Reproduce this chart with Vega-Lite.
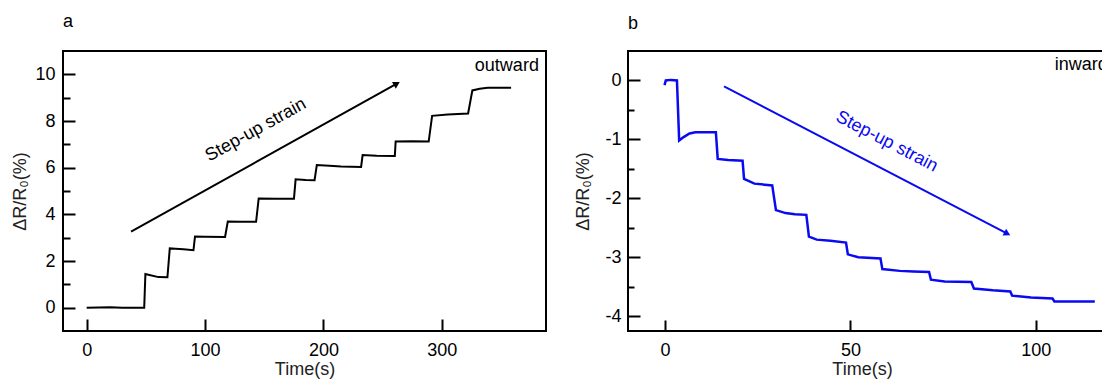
{
  "$schema": "https://vega.github.io/schema/vega-lite/v6.json",
  "padding": {"left": 10, "top": 12, "right": 0, "bottom": 0},
  "background": "white",
  "spacing": 26,
  "datasets": {
    "traceA": [
      {"t": 0, "v": 0}, {"t": 10, "v": 0.01}, {"t": 20, "v": 0.02}, {"t": 30, "v": 0.0}, {"t": 40, "v": 0.0}, {"t": 48.6, "v": 0.0},
      {"t": 49.6, "v": 1.44}, {"t": 53, "v": 1.4}, {"t": 60.6, "v": 1.31}, {"t": 68.2, "v": 1.3},
      {"t": 70.2, "v": 2.54}, {"t": 75, "v": 2.53}, {"t": 81.8, "v": 2.5}, {"t": 90.2, "v": 2.46},
      {"t": 91.5, "v": 3.05}, {"t": 100, "v": 3.04}, {"t": 116.9, "v": 3.03},
      {"t": 119.2, "v": 3.69}, {"t": 130, "v": 3.68}, {"t": 143.1, "v": 3.68},
      {"t": 145.3, "v": 4.68}, {"t": 160, "v": 4.67}, {"t": 175.1, "v": 4.67},
      {"t": 176.5, "v": 5.5}, {"t": 185, "v": 5.47}, {"t": 192.5, "v": 5.46},
      {"t": 194.4, "v": 6.11}, {"t": 205, "v": 6.08}, {"t": 215, "v": 6.05}, {"t": 231.8, "v": 6.03},
      {"t": 233.1, "v": 6.54}, {"t": 245, "v": 6.51}, {"t": 260.3, "v": 6.5},
      {"t": 261.0, "v": 7.12}, {"t": 275, "v": 7.13}, {"t": 288.9, "v": 7.12},
      {"t": 291.8, "v": 8.22}, {"t": 305, "v": 8.28}, {"t": 322.2, "v": 8.32},
      {"t": 325.8, "v": 9.31}, {"t": 332, "v": 9.38}, {"t": 338.8, "v": 9.42}, {"t": 358.5, "v": 9.43}
    ],
    "traceB": [
      {"t": -0.15, "v": -0.08}, {"t": 0.2, "v": 0.0}, {"t": 1.5, "v": 0.01}, {"t": 3.2, "v": 0.0},
      {"t": 3.8, "v": -1.02}, {"t": 5.0, "v": -0.96}, {"t": 6.6, "v": -0.9}, {"t": 8.2, "v": -0.88}, {"t": 11, "v": -0.88}, {"t": 13.7, "v": -0.88},
      {"t": 14.2, "v": -1.33}, {"t": 17, "v": -1.35}, {"t": 20.9, "v": -1.36},
      {"t": 21.3, "v": -1.67}, {"t": 24.1, "v": -1.75}, {"t": 28.9, "v": -1.78},
      {"t": 29.9, "v": -2.2}, {"t": 32.5, "v": -2.25}, {"t": 35, "v": -2.27}, {"t": 38.1, "v": -2.28},
      {"t": 38.8, "v": -2.65}, {"t": 40.9, "v": -2.7}, {"t": 44.6, "v": -2.72}, {"t": 48.8, "v": -2.75},
      {"t": 49.3, "v": -2.95}, {"t": 52.1, "v": -3.0}, {"t": 58.1, "v": -3.02},
      {"t": 58.6, "v": -3.2}, {"t": 63.3, "v": -3.23}, {"t": 67, "v": -3.24}, {"t": 71.2, "v": -3.25},
      {"t": 71.7, "v": -3.38}, {"t": 75.4, "v": -3.41}, {"t": 82.6, "v": -3.42},
      {"t": 83.3, "v": -3.53}, {"t": 88.4, "v": -3.56}, {"t": 93.1, "v": -3.58},
      {"t": 93.6, "v": -3.65}, {"t": 98.7, "v": -3.68}, {"t": 104.5, "v": -3.7},
      {"t": 105.0, "v": -3.75}, {"t": 110, "v": -3.75}, {"t": 115.9, "v": -3.75}
    ],
    "arrowA": [{"t": 37.5, "v": 3.26}, {"t": 262, "v": 9.6}],
    "headA": [{"t": 262, "v": 9.6}],
    "arrowB": [{"t": 15.9, "v": -0.1}, {"t": 92.3, "v": -2.6}],
    "headB": [{"t": 92.3, "v": -2.6}],
    "labelStepA": [{"t": 142.9, "v": 7.61, "label": "Step-up strain"}],
    "labelStepB": [{"t": 59.8, "v": -1.04, "label": "Step-up strain"}],
    "labelOut": [{"t": 382, "v": 10.14, "label": "outward"}],
    "labelIn": [{"t": 105.1, "v": 0.17, "label": "inward"}]
  },
  "hconcat": [
    {
      "width": 483,
      "height": 280,
      "title": {"text": "a", "anchor": "start", "frame": "group", "baseline": "alphabetic", "offset": 6, "fontSize": 18, "fontWeight": "normal", "font": "Liberation Sans", "color": "black"},
      "encoding": {
        "x": {"field": "t", "type": "quantitative", "scale": {"domain": [-20, 388], "nice": false, "zero": false},
          "axis": {"values": [0, 100, 200, 300], "tickSize": -12, "labelPadding": 22, "title": "Time(s)", "titlePadding": 1}},
        "y": {"field": "v", "type": "quantitative", "scale": {"domain": [-1, 11], "nice": false, "zero": false},
          "axis": {"values": [0, 1, 2, 3, 4, 5, 6, 7, 8, 9, 10],
            "tickSize": {"condition": {"test": "datum.value % 2 === 0", "value": -12}, "value": -7},
            "labelExpr": "datum.value % 2 === 0 ? datum.label : ''",
            "labelPadding": 20, "title": "ΔR/R₀(%)", "titlePadding": 5}}
      },
      "layer": [
        {"data": {"name": "traceA"}, "mark": {"type": "line", "color": "black", "strokeWidth": 2}},
        {"data": {"name": "arrowA"}, "mark": {"type": "line", "color": "black", "strokeWidth": 2}},
        {"data": {"name": "headA"}, "mark": {"type": "point", "shape": "triangle-right", "filled": true, "color": "black", "opacity": 1, "size": 60, "angle": 330.9}},
        {"data": {"name": "labelStepA"}, "mark": {"type": "text", "angle": 330.9, "align": "center", "baseline": "middle", "fontSize": 18, "font": "Liberation Sans", "color": "black"}, "encoding": {"text": {"field": "label"}}},
        {"data": {"name": "labelOut"}, "mark": {"type": "text", "align": "right", "baseline": "alphabetic", "fontSize": 18, "font": "Liberation Sans", "color": "black"}, "encoding": {"text": {"field": "label"}}}
      ]
    },
    {
      "width": 482,
      "height": 280,
      "title": {"text": "b", "anchor": "start", "frame": "group", "baseline": "alphabetic", "offset": 4, "fontSize": 18, "fontWeight": "normal", "font": "Liberation Sans", "color": "black"},
      "encoding": {
        "x": {"field": "t", "type": "quantitative", "scale": {"domain": [-10, 120], "nice": false, "zero": false},
          "axis": {"values": [0, 50, 100], "tickSize": -11, "labelPadding": 21, "title": "Time(s)", "titlePadding": 1, "titleX": 234}},
        "y": {"field": "v", "type": "quantitative", "scale": {"domain": [-4.25, 0.5], "nice": false, "zero": false},
          "axis": {"values": [-4, -3.5, -3, -2.5, -2, -1.5, -1, -0.5, 0],
            "tickSize": {"condition": {"test": "datum.value % 1 === 0", "value": -12}, "value": -6},
            "labelExpr": "datum.value % 1 === 0 ? (datum.value < 0 ? '-' + abs(datum.value) : '' + datum.value) : ''",
            "labelPadding": 19, "title": "ΔR/R₀(%)", "titlePadding": 12}}
      },
      "layer": [
        {"data": {"name": "traceB"}, "mark": {"type": "line", "color": "#0a0af0", "strokeWidth": 2.5}},
        {"data": {"name": "arrowB"}, "mark": {"type": "line", "color": "#0a0af0", "strokeWidth": 2}},
        {"data": {"name": "headB"}, "mark": {"type": "point", "shape": "triangle-right", "filled": true, "color": "#0a0af0", "opacity": 1, "size": 60, "angle": 27.5}},
        {"data": {"name": "labelStepB"}, "mark": {"type": "text", "angle": 27.5, "align": "center", "baseline": "middle", "fontSize": 18, "font": "Liberation Sans", "color": "#0a0af0"}, "encoding": {"text": {"field": "label"}}},
        {"data": {"name": "labelIn"}, "mark": {"type": "text", "align": "left", "baseline": "alphabetic", "fontSize": 18, "font": "Liberation Sans", "color": "black"}, "encoding": {"text": {"field": "label"}}}
      ]
    }
  ],
  "config": {
    "view": {"stroke": "black", "strokeWidth": 2},
    "axis": {"domain": false, "grid": false, "labelFont": "Liberation Sans", "labelFontSize": 18, "labelColor": "black",
      "titleFont": "Liberation Sans", "titleFontSize": 18, "titleFontWeight": "normal", "titleColor": "#222222",
      "tickColor": "black", "tickWidth": 2}
  }
}
